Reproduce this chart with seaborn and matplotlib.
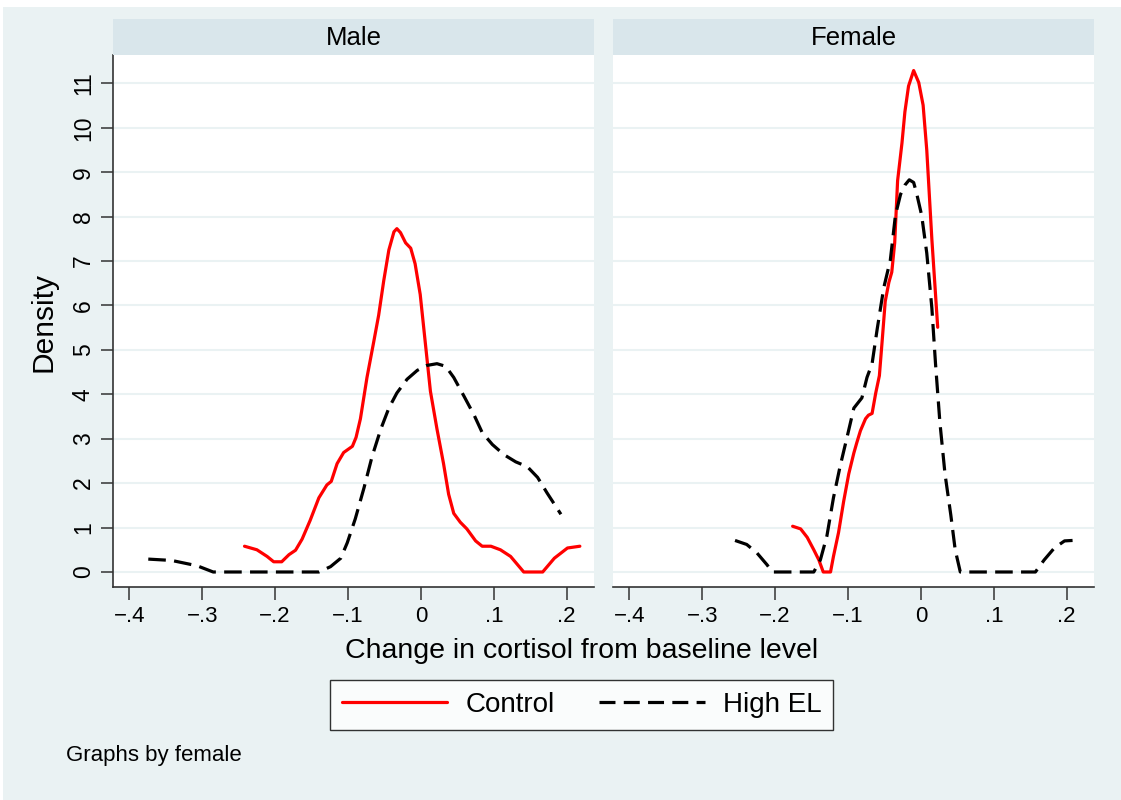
import numpy as np
import pandas as pd
import matplotlib
matplotlib.use("Agg")
import matplotlib.pyplot as plt
from matplotlib.patches import Rectangle
from matplotlib.lines import Line2D
import seaborn as sns

sns.set_theme(style="white")
plt.rcParams['font.family'] = ['Liberation Sans', 'DejaVu Sans']
plt.rcParams['text.color'] = 'black'
plt.rcParams['xtick.color'] = 'black'
plt.rcParams['ytick.color'] = 'black'

# kernel density curves (x = change in cortisol, y = density)
male_ctrl_x = [-0.242, -0.225, -0.211, -0.202, -0.191, -0.181, -0.172, -0.163, -0.152, -0.140,
               -0.129, -0.123, -0.115, -0.106, -0.094, -0.089, -0.083, -0.074, -0.065, -0.058,
               -0.051, -0.044, -0.037, -0.033, -0.028, -0.021, -0.014, -0.008, -0.001, 0.006,
               0.013, 0.022, 0.031, 0.038, 0.045, 0.054, 0.063, 0.075, 0.084, 0.096,
               0.109, 0.123, 0.141, 0.167, 0.183, 0.201, 0.218]
male_ctrl_y = [0.58, 0.50, 0.35, 0.23, 0.23, 0.39, 0.49, 0.74, 1.16, 1.67,
               1.96, 2.04, 2.44, 2.69, 2.83, 3.03, 3.45, 4.38, 5.16, 5.78,
               6.56, 7.25, 7.66, 7.73, 7.64, 7.41, 7.29, 6.94, 6.25, 5.16,
               4.07, 3.22, 2.44, 1.75, 1.32, 1.12, 0.97, 0.70, 0.58, 0.58,
               0.50, 0.35, 0.0, 0.0, 0.31, 0.54, 0.58]

male_high_x = [-0.374, -0.342, -0.307, -0.285, -0.140, -0.124, -0.110, -0.101, -0.090, -0.078,
               -0.067, -0.055, -0.044, -0.033, -0.019, -0.005, 0.008, 0.022, 0.034, 0.045,
               0.059, 0.073, 0.084, 0.098, 0.114, 0.130, 0.146, 0.160, 0.173, 0.192]
male_high_y = [0.29, 0.26, 0.14, 0.0, 0.0, 0.12, 0.31, 0.66, 1.20, 1.90,
               2.60, 3.22, 3.69, 4.03, 4.34, 4.54, 4.65, 4.69, 4.63, 4.38,
               3.96, 3.53, 3.14, 2.87, 2.64, 2.48, 2.37, 2.13, 1.78, 1.30]

female_ctrl_x = [-0.176, -0.165, -0.156, -0.147, -0.140, -0.134, -0.124, -0.120, -0.113, -0.106,
                 -0.099, -0.092, -0.088, -0.083, -0.076, -0.072, -0.067, -0.062, -0.057, -0.053,
                 -0.049, -0.044, -0.040, -0.036, -0.032, -0.026, -0.022, -0.017, -0.010, -0.003,
                 0.003, 0.008, 0.015, 0.023]
female_ctrl_y = [1.03, 0.97, 0.78, 0.50, 0.27, 0.0, 0.0, 0.35, 0.89, 1.59,
                 2.21, 2.68, 2.91, 3.18, 3.45, 3.53, 3.57, 4.03, 4.42, 5.24,
                 6.09, 6.52, 6.75, 7.41, 8.81, 9.66, 10.36, 10.94, 11.29, 11.02,
                 10.51, 9.50, 7.49, 5.51]

female_high_x = [-0.255, -0.239, -0.225, -0.211, -0.204, -0.147, -0.138, -0.129, -0.120, -0.111,
                 -0.101, -0.092, -0.081, -0.074, -0.067, -0.060, -0.051, -0.042, -0.035, -0.028,
                 -0.022, -0.016, -0.010, -0.006, 0.001, 0.008, 0.015, 0.020, 0.026, 0.033,
                 0.041, 0.047, 0.054, 0.157, 0.169, 0.183, 0.197, 0.208]
female_high_y = [0.71, 0.62, 0.43, 0.16, 0.0, 0.0, 0.27, 0.81, 1.67, 2.37,
                 3.06, 3.69, 3.92, 4.38, 4.69, 5.47, 6.40, 7.02, 8.03, 8.50,
                 8.71, 8.83, 8.77, 8.53, 8.03, 7.18, 5.94, 4.69, 3.37, 2.21,
                 1.28, 0.50, 0.0, 0.0, 0.27, 0.54, 0.70, 0.71]

x_ticks = [-0.4, -0.3, -0.2, -0.1, 0.0, 0.1, 0.2]
x_tick_labels = ['\u2212.4', '\u2212.3', '\u2212.2', '\u2212.1', '0', '.1', '.2']
y_ticks = list(range(0, 12))
panels = ['Male', 'Female']

bg = '#EAF2F3'
strip_col = '#D9E6EB'
axis_col = '#333333'

fig = plt.figure(figsize=(11.21, 8), dpi=100, facecolor='white')
fig.patches.append(Rectangle((3 / 1121, 0), 1, 1 - 7 / 800, transform=fig.transFigure,
                             facecolor=bg, edgecolor='none', zorder=-10))

curves = {
    'Male': (male_ctrl_x, male_ctrl_y, male_high_x, male_high_y),
    'Female': (female_ctrl_x, female_ctrl_y, female_high_x, female_high_y),
}

lefts = [113 / 1121, 613 / 1121]
w = 481 / 1121
bottom = 1 - 587 / 800
h = 532 / 800

for i, name in enumerate(panels):
    ax = fig.add_axes([lefts[i], bottom, w, h])
    ax.set_facecolor('white')
    cx, cy, hx, hy = curves[name]
    ctrl = pd.DataFrame({'x': cx, 'y': cy})
    high = pd.DataFrame({'x': hx, 'y': hy})
    sns.lineplot(data=ctrl, x='x', y='y', ax=ax, color='#FF0000', lw=2.3,
                 sort=False, estimator=None)
    sns.lineplot(data=high, x='x', y='y', ax=ax, color='black', lw=2.3,
                 sort=False, estimator=None, dashes=False)
    ax.lines[-1].set_dashes((5.5, 2.6))
    ax.set_xlim(-0.4224, 0.2374)
    ax.set_ylim(-0.338, 11.64)
    ax.set_xticks(x_ticks)
    ax.set_xticklabels(x_tick_labels, fontsize=16)
    ax.set_yticks(y_ticks)
    for yv in y_ticks:
        ax.axhline(yv, color=bg, lw=1.5, zorder=0)
    ax.grid(False)
    ax.set_xlabel('')
    ax.set_ylabel('')
    for s in ['top', 'right']:
        ax.spines[s].set_visible(False)
    ax.spines['bottom'].set_color(axis_col)
    ax.spines['bottom'].set_linewidth(1.2)
    ax.tick_params(axis='x', direction='out', length=9, width=1.1, color=axis_col, pad=5,
                   bottom=True, labelcolor='black')
    if i == 0:
        ax.spines['left'].set_color(axis_col)
        ax.spines['left'].set_linewidth(1.2)
        ax.set_yticklabels([str(v) for v in y_ticks], fontsize=16.5, rotation=90, va='center')
        ax.tick_params(axis='y', direction='out', length=9, width=1.1, color=axis_col, pad=4,
                       left=True, labelcolor='black')
    else:
        ax.spines['left'].set_visible(False)
        ax.tick_params(axis='y', left=False, labelleft=False)
    # strip title
    sax = fig.add_axes([lefts[i], 1 - 55 / 800, w, 36 / 800])
    sax.set_facecolor(strip_col)
    sax.set_xticks([])
    sax.set_yticks([])
    for s in sax.spines.values():
        s.set_visible(False)
    sax.text(0.5, 0.47, name, ha='center', va='center', fontsize=18.5, color='black',
             transform=sax.transAxes)

fig.text(43 / 1121, 1 - 322 / 800, 'Density', rotation=90, ha='center', va='center',
         fontsize=21.5, color='black')
fig.text(582 / 1121, 1 - 651 / 800, 'Change in cortisol from baseline level', ha='center',
         va='center', fontsize=20.5, color='black')
fig.text(66 / 1121, 1 - 756 / 800, 'Graphs by female', ha='left', va='center', fontsize=16,
         color='black')

handles = [Line2D([], [], color='#FF0000', lw=2.3),
           Line2D([], [], color='black', lw=2.3, dashes=(5.0, 2.6))]
leg = fig.legend(handles, ['Control', 'High EL'], loc='center', ncol=2,
                 bbox_to_anchor=(581.5 / 1121, 1 - 705 / 800), fontsize=20, frameon=True,
                 fancybox=False, handlelength=3.8, columnspacing=1.6, handletextpad=0.65,
                 borderpad=0.42, borderaxespad=0)
leg.get_frame().set_edgecolor('black')
leg.get_frame().set_linewidth(1.0)
leg.get_frame().set_facecolor('white')
for t in leg.get_texts():
    t.set_color('black')

fig.savefig('out.png', dpi=100, facecolor=fig.get_facecolor())
